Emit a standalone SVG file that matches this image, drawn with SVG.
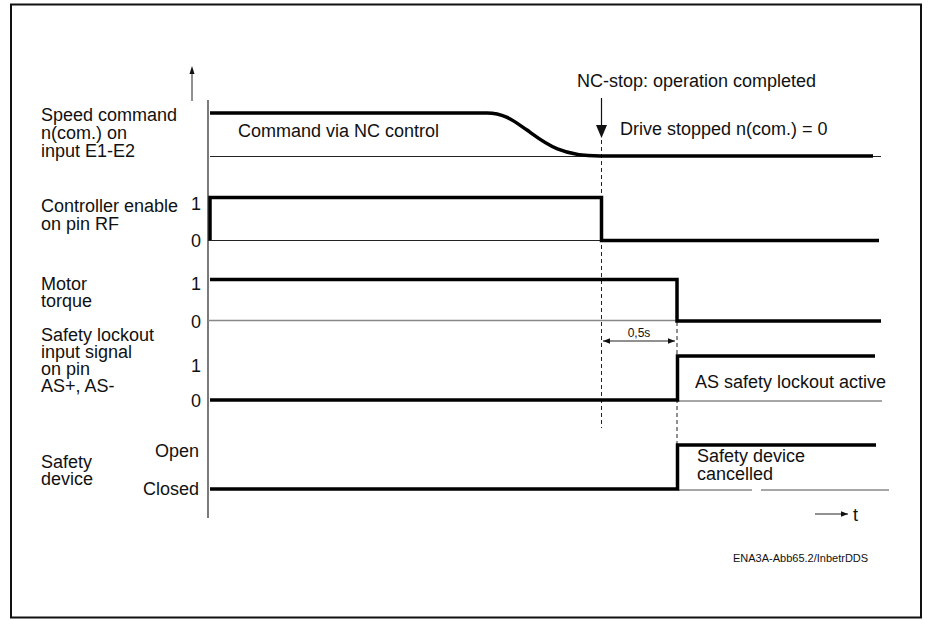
<svg xmlns="http://www.w3.org/2000/svg" width="929" height="620" viewBox="0 0 929 620">
<style>
text{font-family:"Liberation Sans",Arial,sans-serif;font-size:18px;fill:#111}
.r{text-anchor:end}
.sm{font-size:12px}
.xs{font-size:11px}
.sig{fill:none;stroke:#000;stroke-width:3.5;stroke-linejoin:miter}
.thin{fill:none;stroke:#222;stroke-width:1}
.gray{fill:none;stroke:#888;stroke-width:1.3}
.dash{fill:none;stroke:#222;stroke-width:1;stroke-dasharray:4 3}
</style>
<defs>
<marker id="ah" viewBox="0 0 10 10" refX="10" refY="5" markerWidth="7" markerHeight="7" orient="auto-start-reverse" markerUnits="userSpaceOnUse"><path d="M0,1 L10,5 L0,9 Z" fill="#111"/></marker>
</defs>
<rect x="11" y="4.5" width="910" height="613" fill="#fff" stroke="#111" stroke-width="2"/>

<g id="axes">
<line x1="192" y1="70" x2="192" y2="101" class="thin"/>
<path d="M192,66 L189.5,74 L194.5,74 Z" fill="#111"/>
<line x1="208" y1="100" x2="208" y2="518" stroke="#333" stroke-width="1.3"/>
</g>

<g id="connectors">
<line x1="601.5" y1="98" x2="601.5" y2="126" stroke="#111" stroke-width="1.2"/>
<path d="M596,125 L607,125 L601.5,138 Z" fill="#111"/>
<line x1="601.5" y1="140" x2="601.5" y2="428" class="dash"/>
<line x1="677" y1="322" x2="677" y2="446" class="dash"/>
<line x1="603" y1="341" x2="675" y2="341" class="thin" marker-start="url(#ah)" marker-end="url(#ah)"/>
<line x1="815" y1="514" x2="848" y2="514" class="thin" marker-end="url(#ah)"/>
</g>

<g id="speed-command">
<text x="41" y="121">Speed command</text>
<text x="41" y="139">n(com.) on</text>
<text x="41" y="157">input E1-E2</text>
<line x1="210" y1="156.5" x2="881" y2="156.5" class="thin"/>
<path d="M210,113 H487 C505,113 515,122 527,130 C545,143 560,156 600,156 H873" class="sig"/>
<text x="238" y="137">Command via NC control</text>
<text x="577" y="87">NC-stop: operation completed</text>
<text x="620" y="135">Drive stopped n(com.) = 0</text>
</g>

<g id="controller-enable">
<text x="41" y="212">Controller enable</text>
<text x="41" y="230">on pin RF</text>
<text x="201" y="210" class="r">1</text>
<text x="201" y="247" class="r">0</text>
<line x1="208" y1="240.5" x2="601" y2="240.5" class="thin"/>
<path d="M210,240 V197.5 H601.5 V240.5 H879" class="sig"/>
</g>

<g id="motor-torque">
<text x="41" y="290">Motor</text>
<text x="41" y="307">torque</text>
<text x="201" y="290" class="r">1</text>
<text x="201" y="328" class="r">0</text>
<line x1="208" y1="320.5" x2="677" y2="320.5" class="gray"/>
<path d="M210,279.5 H677 V321 H881" class="sig"/>
<text x="639" y="337" class="sm" text-anchor="middle">0,5s</text>
</g>

<g id="safety-lockout">
<text x="41" y="341">Safety lockout</text>
<text x="41" y="358">input signal</text>
<text x="41" y="375">on pin</text>
<text x="41" y="392">AS+, AS-</text>
<text x="201" y="372" class="r">1</text>
<text x="201" y="407" class="r">0</text>
<line x1="677" y1="401" x2="882" y2="401" class="gray"/>
<path d="M210,400 H677.5 V356 H875" class="sig"/>
<text x="695" y="388">AS safety lockout active</text>
</g>

<g id="safety-device">
<text x="41" y="468">Safety</text>
<text x="41" y="485">device</text>
<text x="199" y="457" class="r">Open</text>
<text x="199" y="495" class="r">Closed</text>
<line x1="678" y1="490" x2="752" y2="490" class="gray"/>
<line x1="761" y1="490" x2="889" y2="490" class="gray"/>
<path d="M210,489 H677.5 V445 H876" class="sig"/>
<text x="697" y="462">Safety device</text>
<text x="697" y="480">cancelled</text>
</g>

<g id="footer">
<text x="853" y="521">t</text>
<text x="733" y="562" class="xs">ENA3A-Abb65.2/InbetrDDS</text>
</g>
</svg>
